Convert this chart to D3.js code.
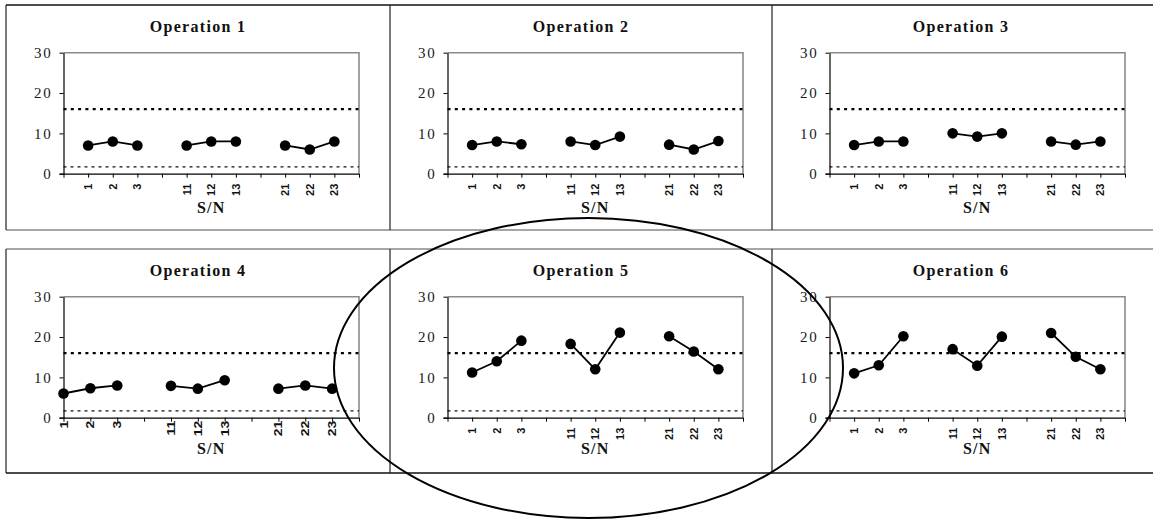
<!DOCTYPE html>
<html><head><meta charset="utf-8">
<script src="https://cdn.jsdelivr.net/npm/d3@7"></script>
<style>body{margin:0;background:#fff;} svg{display:block}</style>
</head><body>
<svg id="c" width="1153" height="520"></svg>
<script>
// ---- data ----
const titles = ["Operation 1", "Operation 2", "Operation 3", "Operation 4", "Operation 5", "Operation 6"];
const catsA = ["", "1", "2", "3", "", "11", "12", "13", "", "21", "22", "23", ""];
const catsB = ["1", "2", "3", "", "11", "12", "13", "", "21", "22", "23", ""];
const op1 = [7, 8, 7, 7, 8, 8, 7, 6, 8];
const op2 = [7.1, 8, 7.3, 8, 7.1, 9.2, 7.2, 6, 8.1];
const op3 = [7.1, 8, 8, 10, 9.2, 10, 8, 7.2, 8];
const op4 = [6, 7.3, 8, 7.9, 7.2, 9.3, 7.2, 8, 7.2];
const op5 = [11.2, 14, 19.1, 18.3, 12, 21.1, 20.2, 16.4, 12];
const op6 = [11, 13, 20.2, 17, 12.9, 20.1, 21, 15.1, 12];
const upperLimit = 16;
const lowerLimit = 1.7;
const yTicks = [0, 10, 20, 30];
const axisTitle = "S/N";

const series = [op1, op2, op3, op4, op5, op6];
const catSets = [catsA, catsA, catsA, catsB, catsA, catsA];

// ---- layout ----
const W = 1153, H = 520;
const colX = [6, 390, 772];
const rowY = [5, 249];
const svg = d3.select("#c");

// cell borders
const bord = svg.append("g").attr("fill", "none");
bord.append("line").attr("x1", 6).attr("x2", W).attr("y1", 5).attr("y2", 5).attr("stroke", "#111").attr("stroke-width", 1.5);
bord.append("line").attr("x1", 6).attr("x2", W).attr("y1", 230).attr("y2", 230).attr("stroke", "#888").attr("stroke-width", 1.5);
bord.append("line").attr("x1", 6).attr("x2", W).attr("y1", 249).attr("y2", 249).attr("stroke", "#888").attr("stroke-width", 1.5);
bord.append("line").attr("x1", 6).attr("x2", W).attr("y1", 473).attr("y2", 473).attr("stroke", "#111").attr("stroke-width", 1.5);
[6, 390, 772].forEach(x => {
  bord.append("line").attr("x1", x).attr("x2", x).attr("y1", 5).attr("y2", 230).attr("stroke", "#222").attr("stroke-width", 1.2);
  bord.append("line").attr("x1", x).attr("x2", x).attr("y1", 249).attr("y2", 473).attr("stroke", "#222").attr("stroke-width", 1.2);
});

const y0 = d3.scaleLinear().domain([0, 30]);

series.forEach((vals, p) => {
  const col = p % 3, row = Math.floor(p / 3);
  const cx = colX[col], cy = rowY[row];
  const cellW = (col < 2 ? colX[col + 1] : 1150) - cx;
  const left = cx + 57.5, right = left + 295.5;
  const top = cy + 47.7, bottom = top + 121;
  const cats = catSets[p];
  const x = d3.scalePoint().domain(d3.range(cats.length)).range([left, right]).padding(0);
  const y = y0.copy().range([bottom, top]);
  const g = svg.append("g");

  // plot frame (gray top & right)
  g.append("path").attr("d", `M${left},${top}H${right}V${bottom}`)
    .attr("fill", "none").attr("stroke", "#8a8a8a").attr("stroke-width", 1.6);

  // reference lines
  g.append("line").attr("x1", left).attr("x2", right).attr("y1", y(upperLimit)).attr("y2", y(upperLimit))
    .attr("stroke", "#000").attr("stroke-width", 2.4).attr("stroke-dasharray", "3,4.3");
  g.append("line").attr("x1", left).attr("x2", right).attr("y1", y(lowerLimit)).attr("y2", y(lowerLimit))
    .attr("stroke", "#111").attr("stroke-width", 1.1).attr("stroke-dasharray", "3,4");

  // y axis
  const ya = g.append("g").attr("transform", `translate(${left},0)`)
    .call(d3.axisLeft(y).tickValues(yTicks).tickSize(4).tickPadding(7).tickSizeOuter(0));
  ya.select(".domain").attr("stroke", "#000").attr("stroke-width", 1.2);
  ya.selectAll(".tick line").attr("stroke", "#000");
  ya.selectAll("text").attr("font-family", "Liberation Serif, Times New Roman, serif")
    .attr("font-size", 15).attr("letter-spacing", "1.8px").attr("fill", "#1a1a1a");

  // x axis
  const xa = g.append("g").attr("transform", `translate(0,${bottom})`)
    .call(d3.axisBottom(x).tickSize(4).tickSizeOuter(0).tickFormat(() => ""));
  xa.select(".domain").attr("stroke", "#000").attr("stroke-width", 1.2)
    .attr("d", `M${left - 4},0.5H${right}`);
  xa.selectAll(".tick line").attr("stroke", "#000");
  const labOff = (p === 3) ? 3 : 10;
  const stretch = (p === 3) ? 1.4 : 1.1;
  xa.selectAll(".tick").append("text")
    .attr("transform", `translate(0,${labOff}) rotate(-90) scale(${stretch},1)`)
    .attr("text-anchor", "end").attr("dy", "0.35em")
    .attr("font-family", "Liberation Sans, Arial, sans-serif").attr("font-size", 10).attr("font-weight", "bold")
    .attr("fill", "#111")
    .text(i => cats[i]);

  // data points
  let k = 0;
  const pts = cats.map((c, i) => ({ i, v: c === "" ? null : vals[k++] }));
  const line = d3.line().defined(d => d.v != null).x(d => x(d.i)).y(d => y(d.v));
  g.append("path").datum(pts).attr("d", line).attr("fill", "none").attr("stroke", "#000").attr("stroke-width", 1.8);
  g.selectAll("circle.pt").data(pts.filter(d => d.v != null)).join("circle").attr("class", "pt")
    .attr("cx", d => x(d.i)).attr("cy", d => y(d.v)).attr("r", 5.3).attr("fill", "#000");

  // titles
  g.append("text").attr("x", cx + cellW / 2).attr("y", cy + 26.7).attr("text-anchor", "middle")
    .attr("font-family", "Liberation Serif, Times New Roman, serif").attr("font-weight", "bold")
    .attr("font-size", 16).attr("letter-spacing", "1.3px").attr("fill", "#111").text(titles[p]);
  g.append("text").attr("x", (left + right) / 2).attr("y", bottom + (row === 0 ? 39 : 36.5)).attr("text-anchor", "middle")
    .attr("font-family", "Liberation Serif, Times New Roman, serif").attr("font-weight", "bold")
    .attr("font-size", 16).attr("letter-spacing", "1.2px").attr("fill", "#111").text(axisTitle);
});

// highlight ellipse around Operation 5
const hl = { cx: 588.5, cy: 368, rx: 254.5, ry: 150 };
svg.append("ellipse").attr("cx", hl.cx).attr("cy", hl.cy).attr("rx", hl.rx).attr("ry", hl.ry)
  .attr("fill", "none").attr("stroke", "#000").attr("stroke-width", 2);
</script>
</body></html>
